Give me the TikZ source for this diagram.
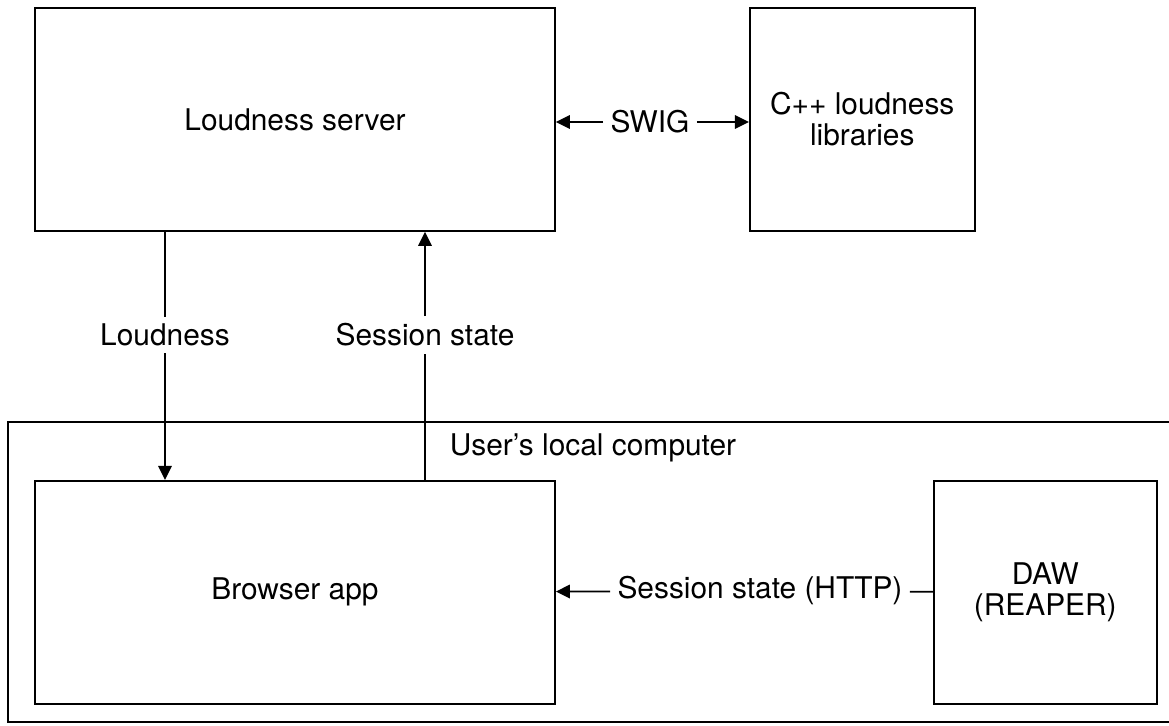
\documentclass[tikz,border=0pt]{standalone}
\usepackage{fontspec}
\setmainfont{TeX Gyre Heros}
\usepackage{tikz}
\usetikzlibrary{arrows.meta, positioning}
\definecolor{mydark}{RGB}{0,0,0}
\tikzset{
  block/.style={rectangle, draw=mydark, fill=white,
    minimum width=10.4cm, minimum height=4.46cm, align=center,
    font=\fontsize{17}{17.6}\selectfont, line width=1pt, inner sep=0pt},
  smallblock/.style={block, minimum width=4.5cm},
  lbl/.style={font=\fontsize{17}{17.6}\selectfont, fill=white, inner sep=4pt},
  arrow/.style={-{Triangle[length=0.28cm, width=0.27cm]}, line width=1pt, color=mydark},
  line/.style={line width=1pt, color=mydark}
}

\begin{document}
\begin{tikzpicture}
  \useasboundingbox (-5.9,2.39) rectangle (17.48,-12.13);
  % user's machine
  \draw[line] (18,-6.05) -- (-5.74,-6.05) -- (-5.74,-12.05) -- (18,-12.05);
  \node[lbl, anchor=west] (local) at (2.95,-6.57) {User's local computer};

  \node[block] (server) at (0,0) {Loudness server};
  \node[smallblock, right=3.86cm of server] (lib) {C++ loudness\\libraries};
  \node[block, below=4.96cm of server] (browser) {Browser app};
  \node[smallblock, minimum width=4.46cm, right=7.54cm of browser] (daw) {DAW\\(REAPER)};

  \node[lbl] (swig) at (7.1,-0.05) {SWIG};
  \node[lbl] (loud) at (-2.6,-4.31) {Loudness};
  \node[lbl] (state) at (2.6,-4.31) {Session state};
  \node[lbl] (http) at (9.3,-9.43) {Session state (HTTP)};

  \draw[arrow] (swig) -- (swig -| server.east);
  \draw[arrow] (swig) -- (swig -| lib.west);
  \draw[line] (loud |- server.south) -- (loud);
  \draw[arrow] (loud) -- (loud |- browser.north);
  \draw[line] (state |- browser.north) -- (state);
  \draw[arrow] (state) -- (state |- server.south);
  \draw[line] (daw) -- (http);
  \draw[arrow] (http) -- (browser);
\end{tikzpicture}
\end{document}
